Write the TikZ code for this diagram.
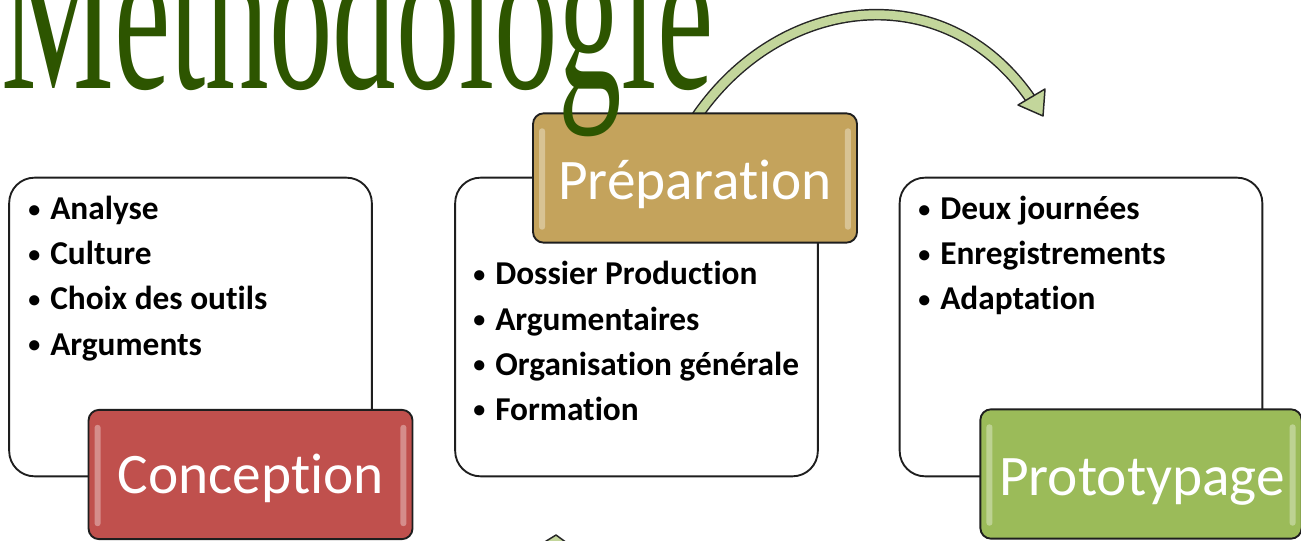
\documentclass[tikz,border=0pt]{standalone}
\usepackage{fontspec}
\setmainfont{Carlito}[Ligatures={NoCommon}]
\newfontfamily\titlefont{Liberation Serif}
\usetikzlibrary{calc}
\definecolor{titlegreen}{RGB}{45,85,0}
\definecolor{concred}{RGB}{192,80,77}
\definecolor{prepgold}{RGB}{196,163,92}
\definecolor{protogreen}{RGB}{155,187,89}
\definecolor{arrowgreen}{RGB}{195,214,155}
\definecolor{edgegray}{RGB}{30,30,30}
\newcommand{\bul}{\makebox[16.5pt][l]{\raisebox{2.2pt}{\fontsize{18}{18}\selectfont•}}}
\begin{document}
\begin{tikzpicture}[x=0.75pt,y=-0.75pt,
  wbox/.style={draw=edgegray, line width=1.4pt, fill=white, rounded corners=19pt,
    minimum width=272pt, minimum height=224pt, inner sep=0pt},
  lbox/.style={draw=edgegray, line width=1.4pt, rounded corners=8pt,
    minimum width=243pt, minimum height=97pt, inner sep=0pt},
  ltext/.style={anchor=base, text=white, inner sep=0pt, font=\fontsize{43}{50}\selectfont},
  btext/.style={anchor=base west, inner sep=0pt, font=\fontsize{25}{30}\selectfont\bfseries},
  gloss/.style={fill=white, fill opacity=0.35, draw=none, rounded corners=2pt},
  band/.style={draw=black!85, line width=1.1pt, double=arrowgreen, double distance=6.5pt}
]
\useasboundingbox (0,0) rectangle (1301,541);
\clip (0,0) rectangle (1301,541);

% curved arrow (behind boxes)
\coordinate (a0) at (697,116);
\coordinate (a1) at (1030,98);
\draw[band] (a0) .. controls (782,-7) and (945,-24) .. (a1);
\draw[draw=black!85, line width=1.1pt, fill=arrowgreen, line join=round]
  (1043,116) -- (1045,89) -- (1018,105) -- cycle;

% bottom arrow fragment
\draw[draw=black!85, line width=1.1pt, fill=arrowgreen, line join=round]
  (543,543) -- (556,535) -- (567,543);

% white content boxes
\node[wbox] (lbx) at (190.5,327) {};
\node[wbox] (mbx) at (636.5,327) {};
\node[wbox] (rbx) at (1081,327) {};

% bullet texts
\foreach \t [count=\i from 0] in {Analyse,Culture,Choix des outils,Arguments}
  \node[btext] (lb\i) at (28,{220+45*\i}) {\bul\t};
\foreach \t [count=\i from 0] in {Dossier Production,Argumentaires,Organisation générale,Formation}
  \node[btext] (mb\i) at (473,{285+45*\i}) {\bul\t};
\foreach \t [count=\i from 0] in {Deux journées,Enregistrements,Adaptation}
  \node[btext] (rb\i) at (918,{220+45*\i}) {\bul\t};

% label boxes
\node[lbox, fill=concred] (conc) at (250.5,474.5) {};
\node[lbox, fill=prepgold] (prep) at (695,178) {};
\node[lbox, fill=protogreen, minimum width=241pt] (proto) at (1141,474) {};
\foreach \n in {conc,prep,proto}{
  \fill[gloss] ($(\n.north west)+(7,16)$) rectangle ($(\n.south west)+(13,-14)$);
  \fill[gloss] ($(\n.north east)+(-13,16)$) rectangle ($(\n.south east)+(-7,-14)$);
}
\node[ltext] (conct) at (251,493) {Conception};
\node[ltext] (prept) at (695,200) {Préparation};
\node[ltext] (protot) at (1142,495) {Prototypage};

% title
\node[anchor=base west, inner sep=0pt, text=titlegreen] (title) at (1,89)
  {\scalebox{0.68}[1.2]{\titlefont\fontsize{140}{140}\selectfont Methodologie}};
\end{tikzpicture}
\end{document}
